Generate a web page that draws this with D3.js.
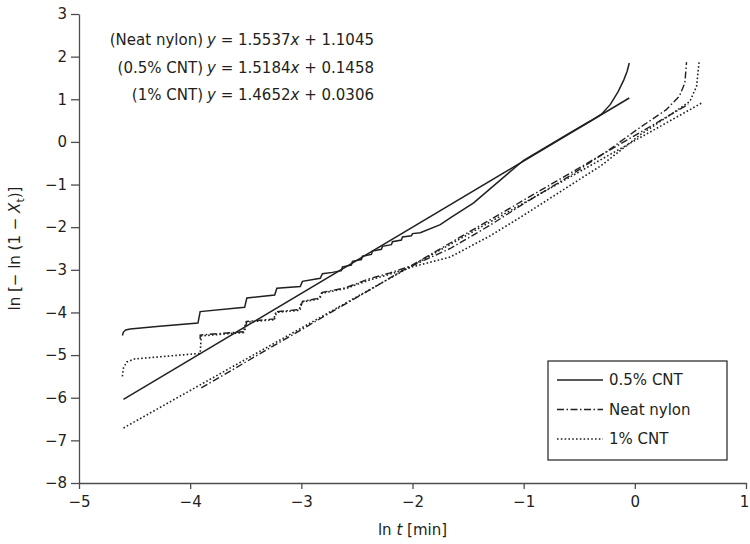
<!DOCTYPE html>
<html>
<head>
<meta charset="utf-8">
<script src="https://cdn.jsdelivr.net/npm/d3@7"></script>
<style>
  body { margin: 0; background: #fff; }
  text { font-family: "DejaVu Sans", sans-serif; fill: #231f20; }
</style>
</head>
<body>
<div id="chart-area"></div>
<script>
// tick values
const xTicks = [-5, -4, -3, -2, -1, 0, 1]
const yTicks = [-8, -7, -6, -5, -4, -3, -2, -1, 0, 1, 2, 3]

// series names / legend
const seriesNames = ["0.5% CNT", "Neat nylon", "1% CNT"]

// equations printed top-left
const eqLabels = ["(Neat nylon)", "(0.5% CNT)", "(1% CNT)"]
const eqSlopes = ["1.5537", "1.5184", "1.4652"]
const eqIntercepts = ["1.1045", "0.1458", "0.0306"]

// 0.5% CNT data (solid), [ln t, ln(-ln(1-Xt))]
const cnt05Data = [
  [-4.61, -4.54], [-4.60, -4.46], [-4.58, -4.41], [-4.54, -4.39], [-4.3, -4.33],
  [-3.93, -4.25], [-3.91, -3.98], [-3.51, -3.88], [-3.49, -3.66], [-3.24, -3.59],
  [-3.22, -3.43], [-3.01, -3.39], [-2.99, -3.27], [-2.83, -3.20], [-2.81, -3.09],
  [-2.72, -3.06], [-2.64, -3.02], [-2.63, -2.93], [-2.55, -2.89], [-2.54, -2.80],
  [-2.46, -2.76], [-2.45, -2.68], [-2.37, -2.64], [-2.36, -2.56], [-2.28, -2.52],
  [-2.27, -2.45], [-2.19, -2.41], [-2.18, -2.34], [-2.10, -2.30], [-2.09, -2.23],
  [-2.01, -2.20], [-2.00, -2.15], [-1.93, -2.13], [-1.75, -1.94], [-1.66, -1.78],
  [-1.45, -1.43], [-1.15, -0.76], [-1.0, -0.43], [-0.8, -0.12], [-0.6, 0.19],
  [-0.4, 0.49], [-0.3, 0.65], [-0.22, 0.88], [-0.15, 1.18], [-0.1, 1.45],
  [-0.07, 1.65], [-0.05, 1.85]
]

// Neat nylon data (dash-dot)
const nylonData = [
  [-3.91, -4.62], [-3.91, -4.53], [-3.51, -4.45], [-3.49, -4.21], [-3.24, -4.15],
  [-3.22, -3.98], [-3.01, -3.93], [-2.99, -3.74], [-2.83, -3.66], [-2.81, -3.53],
  [-2.6, -3.42], [-2.4, -3.22], [-2.2, -3.07], [-2.0, -2.9], [-1.66, -2.5],
  [-1.3, -1.95], [-1.0, -1.45], [-0.6, -0.82], [-0.25, -0.22], [0.02, 0.29],
  [0.28, 0.75], [0.4, 1.07], [0.45, 1.38], [0.465, 1.87]
]

// 1% CNT data (dotted)
const cnt1Data = [
  [-4.61, -5.5], [-4.60, -5.3], [-4.57, -5.16], [-4.5, -5.09], [-3.91, -4.96],
  [-3.90, -4.55], [-3.52, -4.47], [-3.50, -4.23], [-3.25, -4.17], [-3.23, -4.0],
  [-3.02, -3.95], [-3.0, -3.76], [-2.84, -3.68], [-2.82, -3.55], [-2.6, -3.44],
  [-2.4, -3.25], [-2.2, -3.1], [-2.0, -2.93], [-1.66, -2.7], [-1.3, -2.2],
  [-1.0, -1.72], [-0.6, -1.05], [-0.3, -0.55], [0.05, 0.17], [0.345, 0.68],
  [0.495, 0.95], [0.555, 1.3], [0.578, 1.87]
]

// fitted straight lines (end points)
const cnt05Fit = [[-4.6, -6.04], [-0.05, 1.03]]
const nylonFit = [[-3.9, -5.77], [0.48, 0.88]]
const cnt1Fit = [[-4.6, -6.71], [0.6, 0.91]]

const MARGIN = { LEFT: 79, RIGHT: 4, TOP: 14, BOTTOM: 61 }
const WIDTH = 750 - MARGIN.LEFT - MARGIN.RIGHT
const HEIGHT = 544 - MARGIN.TOP - MARGIN.BOTTOM
const INK = "#231f20"
const FONT = "15px"

const svg = d3.select("#chart-area").append("svg")
  .attr("width", 750)
  .attr("height", 544)

const g = svg.append("g")
  .attr("transform", `translate(${MARGIN.LEFT}, ${MARGIN.TOP})`)

const x = d3.scaleLinear().domain([-5, 1]).range([0, WIDTH])
const y = d3.scaleLinear().domain([-8, 3]).range([HEIGHT, 0])

// axes
const xAxisCall = d3.axisBottom(x).tickValues(xTicks).tickFormat(d3.format("d"))
  .tickSize(6).tickSizeOuter(0).tickPadding(7)
const yAxisCall = d3.axisLeft(y).tickValues(yTicks).tickFormat(d3.format("d"))
  .tickSize(8).tickSizeOuter(0).tickPadding(4)

const xAx = g.append("g")
  .attr("transform", `translate(0, ${HEIGHT})`)
  .call(xAxisCall)
const yAx = g.append("g").call(yAxisCall)

;[xAx, yAx].forEach(a => {
  a.selectAll("path, line").attr("stroke", "#4d4d4f").attr("stroke-width", 1.3)
  a.selectAll("text").attr("font-size", FONT).attr("fill", INK)
    .style("font-family", "'DejaVu Sans', sans-serif")
})
xAx.selectAll(".tick").filter(d => d === 1).select("text").attr("dx", -2)

// axis labels
const xl = g.append("text")
  .attr("x", x(-2))
  .attr("y", HEIGHT + 52)
  .attr("text-anchor", "middle")
  .attr("font-size", FONT)
xl.append("tspan").text("ln ")
xl.append("tspan").attr("font-style", "italic").text("t")
xl.append("tspan").text(" [min]")

const yl = g.append("text")
  .attr("transform", `translate(${20 - MARGIN.LEFT}, ${y(-2.5)}) rotate(-90)`)
  .attr("text-anchor", "middle")
  .attr("font-size", FONT)
yl.append("tspan").text("ln [− ln (1 − ")
yl.append("tspan").attr("font-style", "italic").text("X")
yl.append("tspan").attr("font-size", "11px").attr("dy", 4).text("t")
yl.append("tspan").attr("dy", -4).text(")]")

// lines
const line = d3.line().x(d => x(d[0])).y(d => y(d[1]))

const styles = {
  solid: null,
  dashdot: "7,2.5,1.5,2.5",
  dotted: "1.6,2.2"
}

const series = [
  { data: cnt05Fit, dash: styles.solid, w: 1.5 },
  { data: nylonFit, dash: styles.dashdot, w: 1.4 },
  { data: cnt1Fit, dash: styles.dotted, w: 1.6 },
  { data: cnt05Data, dash: styles.solid, w: 1.5 },
  { data: nylonData, dash: styles.dashdot, w: 1.4 },
  { data: cnt1Data, dash: styles.dotted, w: 1.6 }
]

g.selectAll("path.series")
  .data(series)
  .enter().append("path")
  .attr("class", "series")
  .attr("d", d => line(d.data))
  .attr("fill", "none")
  .attr("stroke", INK)
  .attr("stroke-width", d => d.w)
  .attr("stroke-dasharray", d => d.dash)

// equations
const eq = g.append("g").attr("font-size", FONT)
eqLabels.forEach((lab, i) => {
  const yy = 45 + i * 27.5 - MARGIN.TOP
  eq.append("text").attr("x", 203 - MARGIN.LEFT).attr("y", yy)
    .attr("text-anchor", "end").text(lab)
  const t = eq.append("text").attr("x", 207 - MARGIN.LEFT).attr("y", yy)
  t.append("tspan").attr("font-style", "italic").text("y")
  t.append("tspan").text(` = ${eqSlopes[i]}`)
  t.append("tspan").attr("font-style", "italic").text("x")
  t.append("tspan").text(` + ${eqIntercepts[i]}`)
})

// legend
const legendStyles = [styles.solid, styles.dashdot, styles.dotted]
const lg = g.append("g").attr("transform", `translate(${548 - MARGIN.LEFT}, ${361 - MARGIN.TOP})`)
lg.append("rect")
  .attr("width", 179).attr("height", 99)
  .attr("fill", "#fff").attr("stroke", INK).attr("stroke-width", 1.2)
seriesNames.forEach((name, i) => {
  const yy = 19 + i * 29.5
  lg.append("line")
    .attr("x1", 9).attr("x2", 55).attr("y1", yy).attr("y2", yy)
    .attr("stroke", INK).attr("stroke-width", 1.5)
    .attr("stroke-dasharray", legendStyles[i])
  lg.append("text").attr("x", 61).attr("y", yy + 5)
    .attr("font-size", FONT).text(name)
})
</script>
</body>
</html>
